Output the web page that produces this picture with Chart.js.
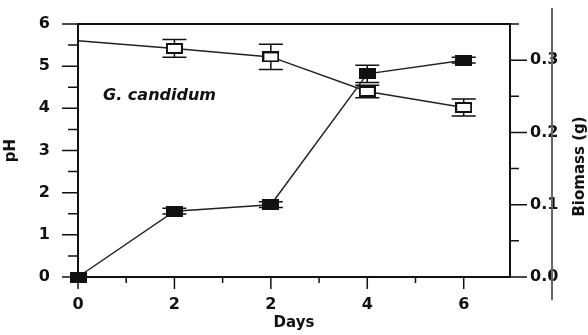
<!DOCTYPE html>
<html>
<head>
<meta charset="utf-8">
<script src="https://cdn.jsdelivr.net/npm/chart.js@4"></script>
<style>
  html, body { margin: 0; padding: 0; background: #fff; }
</style>
</head>
<body>
<canvas id="c" width="588" height="335"></canvas>
<script>
// values
const days = ['0', '2', '2', '4', '6'];
const ph = [5.6, 5.42, 5.22, 4.4, 4.02];
const phErr = [0, 0.21, 0.3, 0.15, 0.2];
const biomass = [0.0, 0.091, 0.1, 0.281, 0.3];
const biomassErr = [0, 0.004, 0.004, 0.012, 0.004];

const FONT = 'DejaVu Sans';
const INK = '#111';

function box(w, h, fill) {
  const c = document.createElement('canvas');
  c.width = w; c.height = h;
  const g = c.getContext('2d');
  g.fillStyle = fill;
  g.fillRect(0, 0, w, h);
  g.strokeStyle = INK;
  g.lineWidth = 2;
  g.strokeRect(1, 1, w - 2, h - 2);
  return c;
}
const openBox = box(17, 11, '#fff');
const fullBox = box(17, 11, '#111');

const pts = arr => arr.map((v, i) => ({ x: i, y: v }));

// no extra room for half-labels at the ends of the axes
function fixSize(prop, size) {
  return s => {
    s[prop] = size;
    s.paddingTop = 0; s.paddingBottom = 0;
    s.paddingLeft = 0; s.paddingRight = 0;
  };
}

// error bars, axis frame and tick marks
const decor = {
  id: 'decor',
  beforeDatasetsDraw(chart) {
    const { ctx, chartArea: a, scales: { x, y, y2 } } = chart;
    ctx.save();
    ctx.strokeStyle = INK;

    // error bars
    ctx.lineWidth = 1.5;
    ctx.beginPath();
    chart.data.datasets.forEach(ds => {
      const sc = chart.scales[ds.yAxisID];
      ds.err.forEach((e, i) => {
        if (!e) return;
        const px = x.getPixelForValue(ds.data[i].x);
        const t = sc.getPixelForValue(ds.data[i].y + e);
        const b = sc.getPixelForValue(ds.data[i].y - e);
        ctx.moveTo(px, t); ctx.lineTo(px, b);
        ctx.moveTo(px - 12, t); ctx.lineTo(px + 12, t);
        ctx.moveTo(px - 12, b); ctx.lineTo(px + 12, b);
      });
    });
    ctx.stroke();

    // frame
    ctx.lineWidth = 2;
    ctx.strokeRect(a.left, a.top, a.right - a.left, a.bottom - a.top);

    // ticks
    ctx.lineWidth = 1.5;
    ctx.beginPath();
    y.ticks.forEach(t => {
      const p = y.getPixelForValue(t.value);
      const len = t.label ? 16 : 10;
      ctx.moveTo(a.left - len, p); ctx.lineTo(a.left, p);
    });
    y2.ticks.forEach(t => {
      const p = y2.getPixelForValue(t.value);
      const len = t.label ? 17 : 9;
      ctx.moveTo(a.right, p); ctx.lineTo(a.right + len, p);
    });
    x.ticks.forEach(t => {
      const p = x.getPixelForValue(t.value);
      const len = t.label ? 12 : 6;
      ctx.moveTo(p, a.bottom); ctx.lineTo(p, a.bottom + len);
    });
    ctx.stroke();

    // stray scan line on the right
    ctx.strokeStyle = '#666';
    ctx.lineWidth = 2;
    ctx.beginPath();
    ctx.moveTo(a.right + 42, a.top - 16);
    ctx.lineTo(a.right + 42, a.bottom + 23);
    ctx.stroke();
    ctx.restore();
  },
  afterDraw(chart) {
    const { ctx, chartArea: a, scales: { x, y } } = chart;
    ctx.save();
    ctx.fillStyle = INK;
    ctx.font = `italic bold 16px "${FONT}"`;
    ctx.textAlign = 'left';
    ctx.textBaseline = 'middle';
    ctx.fillText('G. candidum', x.getPixelForValue(0.26), y.getPixelForValue(4.29));

    ctx.font = `bold 15px "${FONT}"`;
    ctx.textAlign = 'center';
    ctx.translate(a.right + 70, (a.top + a.bottom) / 2 + 16);
    ctx.rotate(-Math.PI / 2);
    ctx.fillText('Biomass (g)', 0, 0);
    ctx.restore();
  }
};

const tickFont = { family: FONT, size: 16, weight: 'bold' };
const noGrid = { display: false, drawTicks: false };

new Chart(document.getElementById('c'), {
  type: 'line',
  data: {
    datasets: [{
      label: 'Biomass',
      data: pts(biomass),
      err: biomassErr,
      yAxisID: 'y2',
      borderColor: '#222',
      borderWidth: 1.5,
      pointStyle: fullBox,
      pointRadius: 6,
      clip: false
    }, {
      label: 'pH',
      data: pts(ph),
      err: phErr,
      yAxisID: 'y',
      borderColor: '#222',
      borderWidth: 1.5,
      pointStyle: openBox,
      pointRadius: ctx => ctx.dataIndex === 0 ? 0 : 6,
      clip: false
    }]
  },
  options: {
    responsive: false,
    animation: false,
    layout: { padding: { top: 24, left: 0, right: 0, bottom: 0 } },
    plugins: { legend: { display: false }, tooltip: { enabled: false } },
    scales: {
      x: {
        type: 'linear',
        position: 'bottom',
        min: 0,
        max: 4.48,
        grid: noGrid,
        border: { display: false },
        ticks: {
          stepSize: 0.5,
          includeBounds: false,
          autoSkip: false,
          maxRotation: 0,
          padding: 18,
          color: INK,
          font: tickFont,
          callback: v => Number.isInteger(v) ? days[v] : ''
        },
        title: {
          display: true,
          text: 'Days',
          color: INK,
          font: { family: FONT, size: 15, weight: 'bold' },
          padding: { top: 0, bottom: 3 }
        },
        afterFit: fixSize('height', 58)
      },
      y: {
        position: 'left',
        min: 0,
        max: 6,
        grid: noGrid,
        border: { display: false },
        ticks: {
          stepSize: 0.5,
          includeBounds: false,
          autoSkip: false,
          padding: 28,
          color: INK,
          font: tickFont,
          callback: v => Number.isInteger(v) ? String(v) : ''
        },
        title: {
          display: true,
          text: 'pH',
          color: INK,
          font: { family: FONT, size: 15, weight: 'bold' },
          padding: { top: 2, bottom: 0 }
        },
        afterFit: fixSize('width', 78)
      },
      y2: {
        position: 'right',
        min: 0,
        max: 0.35,
        grid: noGrid,
        border: { display: false },
        ticks: {
          stepSize: 0.05,
          includeBounds: false,
          autoSkip: false,
          padding: 20,
          color: INK,
          font: tickFont,
          callback: v => Math.abs(v * 10 - Math.round(v * 10)) < 1e-6 ? v.toFixed(1) : ''
        },
        afterFit: fixSize('width', 78)
      }
    }
  },
  plugins: [decor]
});
</script>
</body>
</html>
